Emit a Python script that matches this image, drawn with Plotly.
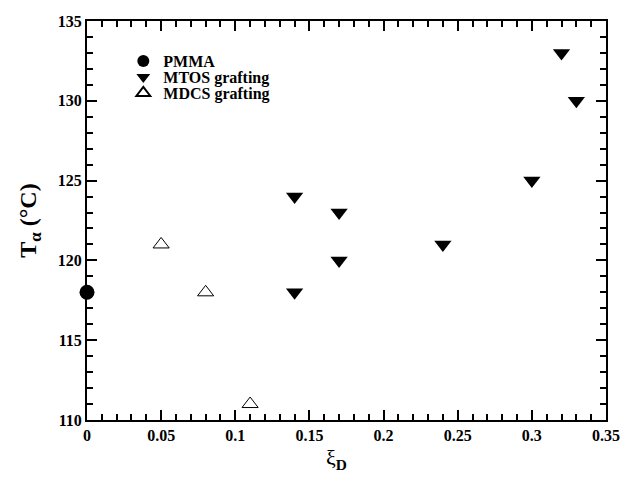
import plotly.graph_objects as go

pmma_x = [0.0]
pmma_y = [118]
mtos_x = [0.14, 0.14, 0.17, 0.17, 0.24, 0.30, 0.32, 0.33]
mtos_y = [124, 118, 123, 120, 121, 125, 133, 130]
mdcs_x = [0.05, 0.08, 0.11]
mdcs_y = [121, 118, 111]

x_major = [0, 0.05, 0.1, 0.15, 0.2, 0.25, 0.3, 0.35]
y_major = [110, 115, 120, 125, 130, 135]

FONT = "Liberation Serif"

fig = go.Figure()
fig.add_trace(go.Scatter(x=pmma_x, y=pmma_y, mode="markers", name="PMMA", legend="legend",
                         marker=dict(symbol="circle", size=15, color="black"), cliponaxis=False))
fig.add_trace(go.Scatter(x=mtos_x, y=mtos_y, mode="markers", name="MTOS grafting", legend="legend2",
                         marker=dict(symbol="triangle-down", size=15, color="black"), cliponaxis=False))
fig.add_trace(go.Scatter(x=mdcs_x, y=mdcs_y, mode="markers", name="MDCS grafting", legend="legend3",
                         marker=dict(symbol="triangle-up-open", size=14, color="black",
                                     line=dict(width=1, color="black")), cliponaxis=False))

axis_common = dict(showline=True, linecolor="black", linewidth=2, mirror="allticks",
                   ticks="inside", ticklen=10, tickwidth=2, tickcolor="black",
                   showgrid=False, zeroline=False, tickmode="array",
                   tickfont=dict(family=FONT, size=16, color="black", weight="bold"))

fig.update_xaxes(range=[0, 0.35], tickvals=x_major, ticktext=[f"{v:g}" for v in x_major],
                 minor=dict(tickmode="linear", tick0=0, dtick=0.01, ticks="inside", ticklen=6,
                            tickwidth=2, tickcolor="black", showgrid=False),
                 **axis_common)
fig.update_yaxes(range=[110, 135], tickvals=y_major, ticktext=[str(v) for v in y_major],
                 minor=dict(tickmode="linear", tick0=110, dtick=1, ticks="inside", ticklen=6,
                            tickwidth=2, tickcolor="black", showgrid=False),
                 title=dict(text="T<sub>α</sub> (°C)", font=dict(family=FONT, size=24, color="black",
                                                                 weight="bold"),
                            standoff=14),
                 **axis_common)

leg_common = dict(x=0.07, xanchor="left", yanchor="middle",
                  font=dict(family=FONT, size=16, color="black", weight="bold"),
                  bgcolor="rgba(0,0,0,0)", itemsizing="constant")

fig.update_layout(
    width=632, height=481,
    margin=dict(l=87, r=12, t=21, b=61),
    paper_bgcolor="white", plot_bgcolor="white",
    showlegend=True,
    legend=dict(y=0.8997, **leg_common),
    legend2=dict(y=0.8596, **leg_common),
    legend3=dict(y=0.8195, **leg_common),
    annotations=[dict(text="ξ<sub><b>D</b></sub>", xref="paper", yref="paper",
                      x=0.48, y=-0.097, xanchor="center", yanchor="middle", showarrow=False,
                      font=dict(family=FONT, size=22, color="black"))],
)

fig.write_html("out.html")
